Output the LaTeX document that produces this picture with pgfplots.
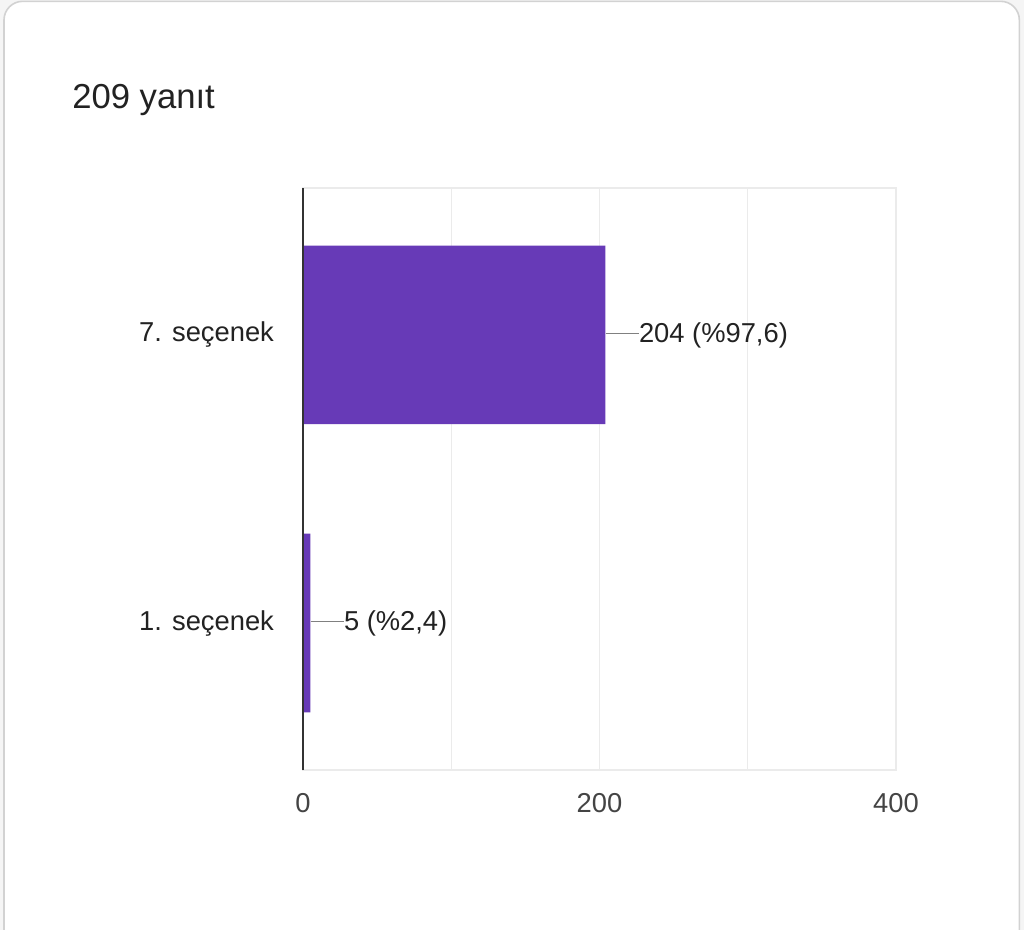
\documentclass[border=0pt]{standalone}
\usepackage{pgfplots}
\pgfplotsset{compat=1.18}
\usepackage{fontspec}
\setmainfont{Liberation Sans}
\definecolor{barpurple}{HTML}{673AB7}
\definecolor{gridgray}{HTML}{EBEBEB}
\definecolor{txtdark}{HTML}{222222}
\definecolor{ticktxt}{HTML}{444444}
\begin{document}
\begin{tikzpicture}
% card background, 1px = 0.75pt
\useasboundingbox (0pt,0pt) rectangle (768pt,697.5pt);
\fill[gray!8] (0pt,0pt) rectangle (768pt,697.5pt);
\draw[gray!35, line width=1.2pt, fill=white, rounded corners=14pt] (3pt,-15pt) rectangle (764.5pt,696.5pt);
\node[anchor=base west, font=\fontsize{26}{30}\selectfont, text=txtdark, inner sep=0pt] at (54pt,616pt) {209 yanıt};
\begin{axis}[
  at={(227.25pt,120pt)}, anchor=south west,
  scale only axis,
  width=444.75pt, height=436.5pt,
  xbar, bar width=0.62,
  xmin=0, xmax=400,
  ymin=-0.51, ymax=1.51,
  xtick={0,200,400},
  minor xtick={100,300},
  xmajorgrids, xminorgrids,
  major grid style={gridgray, line width=1pt},
  minor grid style={gridgray, line width=1pt},
  ytick={0,1},
  yticklabels={1. seçenek, 7. seçenek},
  tick style={draw=none},
  axis line style={draw=gridgray, line width=1.2pt},
  xticklabel style={font=\fontsize{20.5}{24}\selectfont, text=ticktxt, yshift=-14pt},
  yticklabel style={font=\fontsize{20.5}{24}\selectfont, text=txtdark, xshift=-14pt},
  /pgf/number format/assume math mode=true,
  point meta=explicit symbolic,
  nodes near coords,
  nodes near coords style={anchor=west, inner xsep=0pt, font=\fontsize{20.5}{24}\selectfont, text=txtdark},
  after end axis/.code={
    \draw[black!80, line width=1.6pt] (axis cs:0,-0.51) -- (axis cs:0,1.51);
  },
]
\addplot[fill=barpurple, draw=none] coordinates {
  (5,0) [{\textcolor{gray}{\rule[0.55ex]{25pt}{1pt}}5 (\%2,4)}]
  (204,1) [{\textcolor{gray}{\rule[0.55ex]{25pt}{1pt}}204 (\%97,6)}]
};
\end{axis}
\end{tikzpicture}
\end{document}
